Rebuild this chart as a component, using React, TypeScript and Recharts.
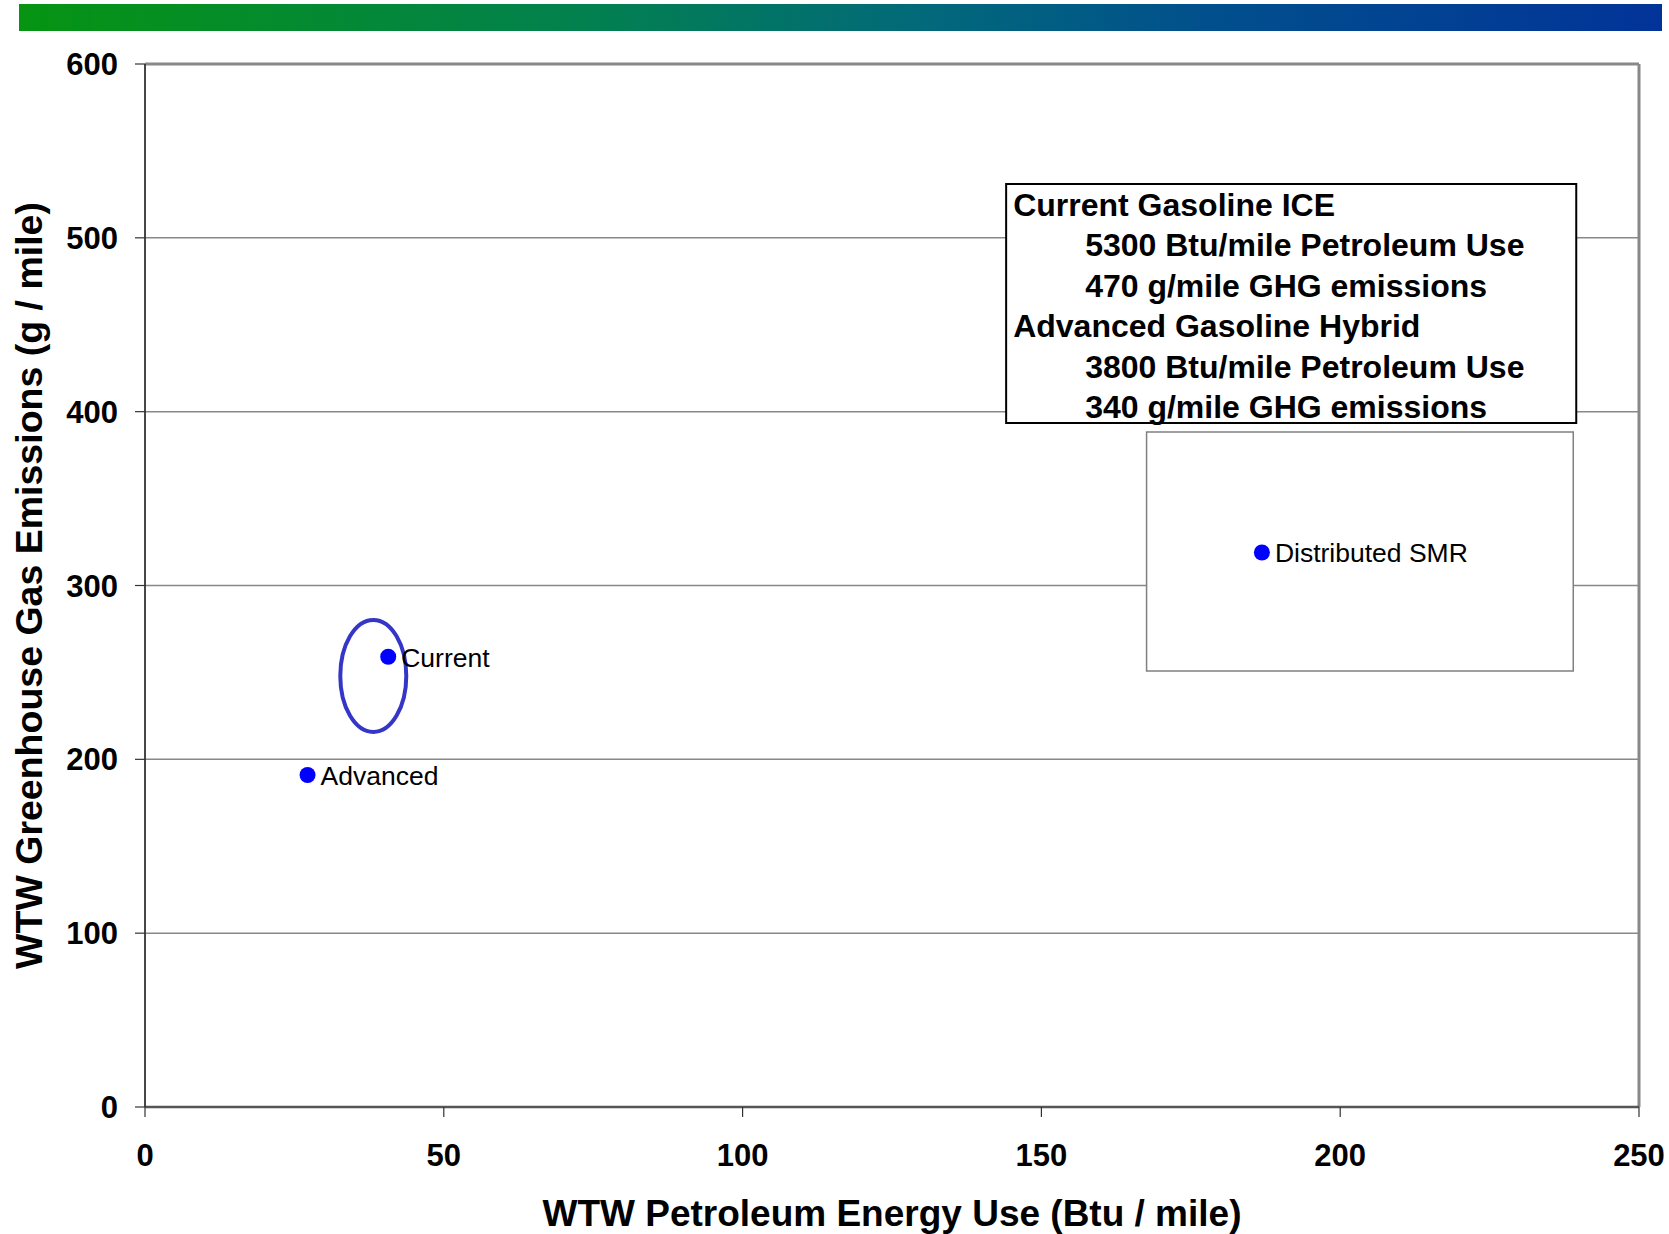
import React from 'react';
import {
  ScatterChart,
  Scatter,
  XAxis,
  YAxis,
  CartesianGrid,
  ReferenceArea,
  ReferenceDot,
  ReferenceLine,
} from 'recharts';

// pathway points
const pointNames = ['Current', 'Advanced', 'Distributed SMR'];
const petroleumUse = [40.7, 27.2, 186.9];
const ghgEmissions = [259, 191, 319];

const xTicks = [0, 50, 100, 150, 200, 250];
const yTicks = [0, 100, 200, 300, 400, 500, 600];

const noteLines = [
  'Current Gasoline ICE',
  '5300 Btu/mile Petroleum Use',
  '470 g/mile GHG emissions',
  'Advanced Gasoline Hybrid',
  '3800 Btu/mile Petroleum Use',
  '340 g/mile GHG emissions',
];
const noteIndented = [false, true, true, false, true, true];

const points = pointNames.map((name, i) => ({
  name,
  x: petroleumUse[i],
  y: ghgEmissions[i],
}));

const FONT = '"Liberation Sans", Arial, sans-serif';

function PointMark(props: any) {
  const { cx, cy, payload } = props;
  return (
    <g>
      <circle cx={cx} cy={cy} r={8} fill="#0000ff" />
      <text
        x={cx + 13}
        y={cy + 1}
        dominantBaseline="central"
        fontSize={26.5}
        fontFamily={FONT}
        fill="#000"
      >
        {payload.name}
      </text>
    </g>
  );
}

function NoteText(props: any) {
  const { x, y } = props.viewBox;
  return (
    <g>
      {noteLines.map((line, i) => (
        <text
          key={line}
          x={x + (noteIndented[i] ? 79 : 7)}
          y={y + 21 + i * 40.4}
          dominantBaseline="central"
          fontSize={32}
          fontWeight="bold"
          fontFamily={FONT}
          fill="#000"
        >
          {line}
        </text>
      ))}
    </g>
  );
}

function CurrentEllipse(props: any) {
  const { cx, cy } = props;
  return <ellipse cx={cx} cy={cy} rx={33} ry={56} fill="none" stroke="#3535c8" strokeWidth={4} />;
}

export default function App() {
  return (
    <div style={{ position: 'absolute', left: 0, top: 0, width: 1669, height: 1234, background: '#fff' }}>
      <div
        style={{
          position: 'absolute',
          left: 19,
          top: 4,
          width: 1643,
          height: 27,
          background: 'linear-gradient(to right, #069412, #028050 35%, #02697a 55%, #01508c 72%, #023399)',
        }}
      />
      <div style={{ position: 'absolute', left: 0, top: 0 }}>
        <ScatterChart
          width={1669}
          height={1234}
          margin={{ top: 64, right: 30, bottom: 0, left: 0 }}
          style={{ fontFamily: FONT }}
        >
          <CartesianGrid vertical={false} stroke="#888" strokeWidth={1.5} />
          <XAxis
            type="number"
            dataKey="x"
            domain={[0, 250]}
            ticks={xTicks}
            height={127}
            tickSize={10}
            tickMargin={27}
            stroke="#555"
            strokeWidth={2.5}
            tick={{ fill: '#000', fontSize: 31, fontWeight: 'bold' }}
            tickLine={{ stroke: '#333', strokeWidth: 1.2 }}
            label={{
              value: 'WTW Petroleum Energy Use (Btu / mile)',
              position: 'insideBottom',
              offset: 8,
              fill: '#000',
              fontSize: 37,
              fontWeight: 'bold',
            }}
          />
          <YAxis
            type="number"
            dataKey="y"
            domain={[0, 600]}
            ticks={yTicks}
            width={145}
            tickSize={10}
            tickMargin={17}
            stroke="#333"
            strokeWidth={1.8}
            tick={{ fill: '#000', fontSize: 31, fontWeight: 'bold' }}
            tickLine={{ stroke: '#333', strokeWidth: 1.2 }}
            label={{
              value: 'WTW Greenhouse Gas Emissions (g / mile)',
              angle: -90,
              position: 'insideLeft',
              offset: 29,
              fill: '#000',
              fontSize: 37.5,
              fontWeight: 'bold',
              style: { textAnchor: 'middle' },
            }}
          />
          <ReferenceLine y={600} stroke="#888" strokeWidth={3} />
          <ReferenceLine x={250} stroke="#888" strokeWidth={3} />
          <ReferenceArea
            x1={167.6}
            x2={239}
            y1={250.8}
            y2={388.3}
            fill="#fff"
            fillOpacity={1}
            stroke="#808080"
            strokeWidth={1.5}
          />
          <ReferenceArea
            x1={144.1}
            x2={239.5}
            y1={393.5}
            y2={531}
            fill="#fff"
            fillOpacity={1}
            stroke="#000"
            strokeWidth={2}
            label={(p: any) => <NoteText viewBox={p.viewBox} />}
          />
          <ReferenceDot x={38.2} y={248} shape={(p: any) => <CurrentEllipse {...p} />} />
          <Scatter data={points} shape={(p: any) => <PointMark {...p} />} isAnimationActive={false} />
        </ScatterChart>
      </div>
    </div>
  );
}
